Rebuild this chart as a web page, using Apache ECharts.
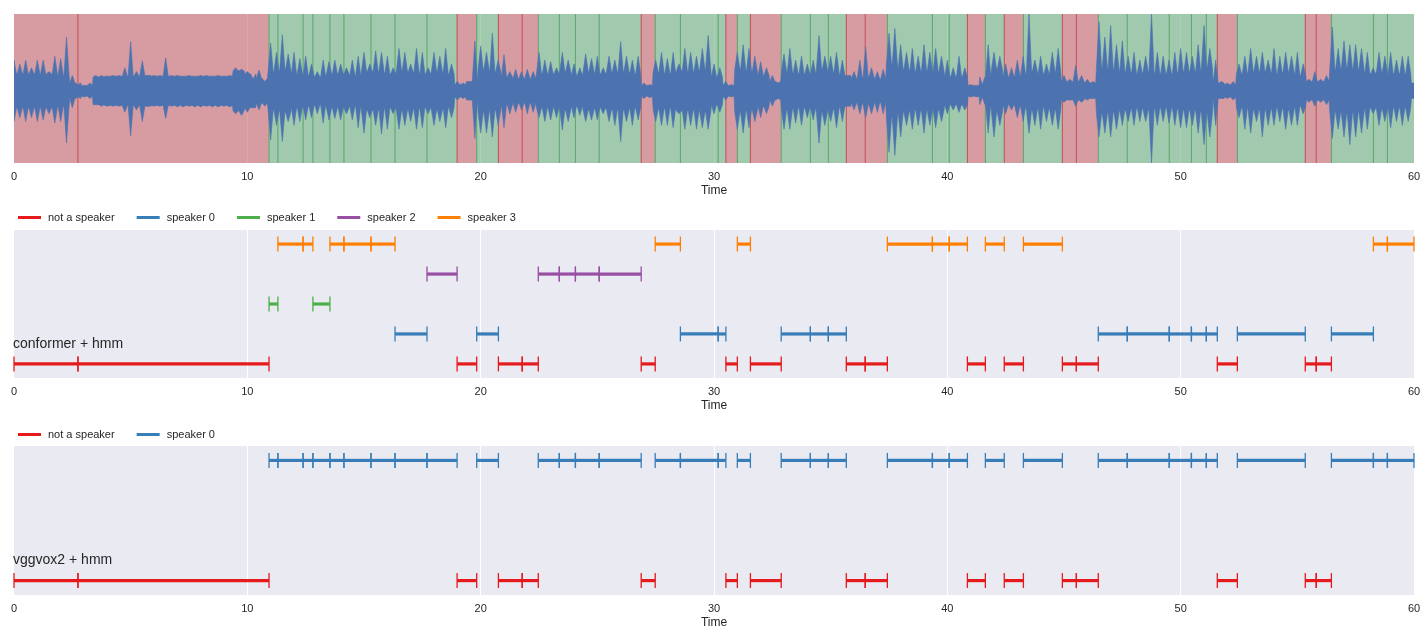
<!DOCTYPE html>
<html><head><meta charset="utf-8">
<script src="https://cdn.jsdelivr.net/npm/echarts@6/dist/echarts.min.js"></script>
<style>html,body{margin:0;padding:0;background:#fff}#c{width:1428px;height:636px}</style>
</head><body><div id="c"></div>
<script>
// segment boundaries (seconds)
const segBounds = [0, 2.74, 10.93, 11.31, 12.39, 12.81, 13.54, 14.14, 15.30, 16.33, 17.70, 18.99, 19.83, 20.76, 21.78, 22.47,
  23.37, 24.06, 25.08, 26.88, 27.48, 28.56, 30.18, 30.51, 31.00, 31.56, 32.88, 34.13, 34.90, 35.67, 36.48, 37.43,
  39.36, 40.08, 40.86, 41.63, 42.44, 43.26, 44.93, 45.53, 46.47, 47.71, 49.51, 50.46, 51.10, 51.57, 52.43, 55.34,
  55.81, 56.46, 58.26, 58.86, 60];
// -1 = not a speaker
const conformerLabels = [-1, -1, 1, 3, 3, 1, 3, 3, 3, 0, 2, -1, 0, -1, -1, 2, 2, 2, 2, -1, 3, 0, 0, -1, 3, -1,
  0, 0, 0, -1, -1, 3, 3, 3, -1, 3, -1, 3, -1, -1, 0, 0, 0, 0, 0, -1, 0, -1, -1, 0, 3, 3];
const vggvoxLabels = [-1, -1, 0, 0, 0, 0, 0, 0, 0, 0, 0, -1, 0, -1, -1, 0, 0, 0, 0, -1, 0, 0, 0, -1, 0, -1,
  0, 0, 0, -1, -1, 0, 0, 0, -1, 0, -1, 0, -1, -1, 0, 0, 0, 0, 0, -1, 0, -1, -1, 0, 0, 0];
const speakerNames = ['not a speaker', 'speaker 0', 'speaker 1', 'speaker 2', 'speaker 3'];
const speakerColors = ['#e41a1c', '#377eb8', '#4daf4a', '#984ea3', '#ff7f00'];
const panelTitles = ['conformer + hmm', 'vggvox2 + hmm'];
const xTickInterval = 10;

// waveform peaks (percent of max), one value every 0.25 s from 0 to 60 s
const waveStep = 0.25;
const waveUpper = [
  40,35,40,30,40,40,25,45,42,70,20,8,7,10,20,20,19,20,20,30,
  64,25,39,20,20,20,43,20,20,19,20,19,20,20,19,20,19,20,30,28,
  25,15,27,12,62,50,73,48,50,42,45,35,25,40,38,40,35,30,40,45,
  50,35,52,50,45,30,55,50,35,55,50,30,50,45,55,35,12,10,12,65,
  58,50,75,40,47,25,28,25,28,25,50,40,38,30,50,40,35,30,48,42,
  45,30,45,40,64,45,40,45,10,8,40,50,42,50,35,55,50,45,55,72,
  35,30,12,8,50,60,55,45,38,30,20,10,48,55,40,45,35,40,72,45,
  45,50,40,20,25,40,57,30,25,28,75,81,60,50,55,45,60,50,55,45,
  40,30,45,30,8,7,8,60,50,45,35,30,40,45,100,40,45,35,50,55,
  20,15,33,20,15,12,90,70,85,60,65,45,50,40,45,100,50,45,40,50,
  55,50,45,60,85,55,40,12,10,12,35,45,55,45,50,40,55,45,50,45,
  50,35,15,25,15,20,83,55,65,60,60,55,50,30,50,45,50,40,45,45,
  10];
const waveLower = [
  40,35,40,35,40,38,30,42,40,68,22,8,8,10,18,20,20,20,20,28,
  59,25,40,20,20,20,36,20,21,21,20,21,21,20,21,21,20,21,30,32,
  28,22,25,20,64,45,66,40,45,40,38,35,30,42,38,36,38,30,38,48,
  55,35,45,56,50,30,50,45,40,50,48,30,45,40,48,35,12,10,12,62,
  55,55,60,45,48,30,28,25,30,28,35,40,38,35,51,40,35,32,40,38,
  38,30,40,45,66,40,45,38,10,9,40,45,45,48,30,50,45,50,48,50,
  30,28,12,8,50,55,48,40,35,30,20,10,50,50,42,45,35,38,68,45,
  40,48,40,20,25,30,35,30,28,30,80,84,60,45,50,45,55,45,48,40,
  30,25,28,25,8,8,8,55,60,45,30,25,35,40,55,45,50,40,45,50,
  15,12,20,15,12,10,60,55,60,50,45,40,45,40,40,94,45,40,42,45,
  48,48,45,55,70,60,45,10,10,12,35,50,55,40,60,45,45,40,50,45,
  45,30,15,20,15,18,62,50,60,70,60,55,50,30,45,40,48,40,45,40,
  10];
// waveform body (percent of max), one value every 0.5 s
const coreStep = 0.5;
const waveCore = [
  22,22,22,22,20,10,7,
  18,19,19,19,20,19,19,19,19,19,19,19,
  26,22,16,
  25,28,22,20,18,22,22,20,25,25,22,26,24,22,25,22,
  8,12,
  28,25,18,16,16,
  22,22,25,20,25,22,24,25,22,7,
  24,22,26,25,28,18,7,
  28,25,20,12,
  25,22,22,28,24,20,
  16,18,15,
  35,28,25,26,25,
  18,18,7,18,28,
  18,20,25,22,25,
  12,12,10,
  30,28,25,22,25,22,22,
  25,25,30,10,8,
  22,25,25,22,25,20,12,12,
  28,30,28,22,24,22,22,10];

const TXT = '#262626';
const FONT = 'Liberation Sans, Arial, sans-serif';

const grids = [
  {left: 14, right: 14, top: 14, height: 149},
  {left: 14, right: 14, top: 230, height: 148},
  {left: 14, right: 14, top: 446, height: 149}
].map(g => Object.assign(g, {show: true, backgroundColor: '#eaeaf2', borderWidth: 0}));

function mkX(gi) {
  return {
    type: 'value', gridIndex: gi, min: 0, max: 60, interval: xTickInterval,
    name: 'Time', nameLocation: 'middle', nameGap: 22,
    nameTextStyle: {fontSize: 12, color: TXT, fontFamily: FONT},
    axisLine: {show: false}, axisTick: {show: false},
    axisLabel: {fontSize: 11, color: TXT, margin: 8, fontFamily: FONT},
    splitLine: {show: true, showMinLine: false, showMaxLine: false, lineStyle: {color: '#ffffff', width: 1}}
  };
}
const yRanges = [[-94, 100], [-0.47, 4.47], [-0.12, 1.12]];
const yAxes = yRanges.map((r, i) => ({type: 'value', gridIndex: i, min: r[0], max: r[1], show: false}));

// top panel spans
const segments = [];
for (let i = 0; i < segBounds.length - 1; i++) segments.push([segBounds[i], segBounds[i + 1]]);
const spanData = segments.map((s, i) => [s[0], s[1], conformerLabels[i] < 0 ? 0 : 1]);

function spanRender(params, api) {
  const s = api.value(0), e = api.value(1), sp = api.value(2);
  const cs = params.coordSys;
  const x1 = api.coord([s, 0])[0], x2 = api.coord([e, 0])[0];
  const col = sp ? '#55a868' : '#c44e52';
  const ch = [{type: 'rect', shape: {x: x1, y: cs.y, width: x2 - x1, height: cs.height},
    style: {fill: col, opacity: 0.5}}];
  if (params.dataIndex > 0) {
    ch.push({type: 'line', shape: {x1: x1, y1: cs.y, x2: x1, y2: cs.y + cs.height},
      style: {stroke: col, lineWidth: 1}});
  }
  return {type: 'group', children: ch};
}

// waveform polygon: peaks on top of the body level
function waveRender(params, api) {
  if (params.dataIndex !== 0) return null;
  const half = 0.11, tEnd = 60;
  const up = [], lo = [];
  for (let i = 0; i < waveUpper.length; i++) {
    const t = i * waveStep;
    const c = waveCore[Math.min(waveCore.length - 1, Math.floor(t / coreStep))];
    if (t - half >= 0) { up.push([t - half, c]); lo.push([t - half, -c]); }
    up.push([t, waveUpper[i]]); lo.push([t, -waveLower[i]]);
    if (t + half <= tEnd) { up.push([t + half, c]); lo.push([t + half, -c]); }
  }
  const pts = up.concat(lo.reverse()).map(p => api.coord(p));
  return {type: 'polygon', shape: {points: pts}, style: {fill: '#4c72b0', stroke: '#4c72b0', lineWidth: 0.6}};
}

function segRender(params, api) {
  const s = api.value(0), e = api.value(1), r = api.value(2);
  const p1 = api.coord([s, r]), p2 = api.coord([e, r]);
  const col = api.visual('color');
  return {type: 'group', children: [
    {type: 'line', shape: {x1: p1[0], y1: p1[1], x2: p2[0], y2: p2[1]}, style: {stroke: col, lineWidth: 3.2}},
    {type: 'line', shape: {x1: p1[0], y1: p1[1] - 7.5, x2: p1[0], y2: p1[1] + 7.5}, style: {stroke: col, lineWidth: 1.3}},
    {type: 'line', shape: {x1: p2[0], y1: p2[1] - 7.5, x2: p2[0], y2: p2[1] + 7.5}, style: {stroke: col, lineWidth: 1.3}}
  ]};
}

const series = [];
series.push({type: 'custom', xAxisIndex: 0, yAxisIndex: 0, renderItem: spanRender, data: spanData, z: 1, silent: true,
  encode: {x: [0, 1]}});
series.push({type: 'custom', xAxisIndex: 0, yAxisIndex: 0, renderItem: waveRender, z: 3, silent: true,
  data: waveUpper.map((v, i) => [i * waveStep, v, -waveLower[i]]), encode: {x: 0, y: [1, 2]}, clip: true});

function addSegSeries(labels, gi) {
  const present = [...new Set(labels)].sort((a, b) => a - b);
  present.forEach(k => {
    const data = [];
    segments.forEach((s, i) => { if (labels[i] === k) data.push([s[0], s[1], k + 1]); });
    series.push({type: 'custom', name: speakerNames[k + 1], xAxisIndex: gi, yAxisIndex: gi,
      renderItem: segRender, data: data, z: 2, silent: true,
      itemStyle: {color: speakerColors[k + 1]}, encode: {x: [0, 1], y: 2}});
  });
}
addSegSeries(conformerLabels, 1);
addSegSeries(vggvoxLabels, 2);

const legendBase = {left: 18, padding: 0, itemWidth: 23, itemHeight: 3, itemGap: 22, icon: 'rect',
  selectedMode: false, textStyle: {fontSize: 11, color: TXT, fontFamily: FONT, padding: [0, 0, 0, 2]}};

const option = {
  animation: false,
  textStyle: {fontFamily: FONT},
  grid: grids,
  xAxis: [mkX(0), mkX(1), mkX(2)],
  yAxis: yAxes,
  legend: [
    Object.assign({}, legendBase, {top: 212, data: speakerNames}),
    Object.assign({}, legendBase, {top: 429, data: speakerNames.slice(0, 2)})
  ],
  graphic: [
    {type: 'text', left: 13, top: 337, style: {text: panelTitles[0], font: '14px ' + FONT, fill: TXT}},
    {type: 'text', left: 13, top: 553, style: {text: panelTitles[1], font: '14px ' + FONT, fill: TXT}}
  ],
  series: series
};
const chart = echarts.init(document.getElementById('c'), null, {renderer: 'canvas'});
chart.setOption(option);
</script></body></html>
